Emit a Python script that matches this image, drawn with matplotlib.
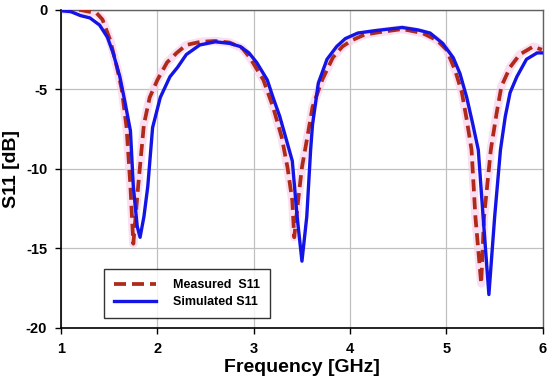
import matplotlib
matplotlib.use("Agg")
import matplotlib.pyplot as plt
import numpy as np

# frequency [GHz] / S11 [dB]
f_sim = [1.0, 1.1, 1.2, 1.3, 1.4, 1.48, 1.54, 1.61, 1.66, 1.72, 1.75, 1.79, 1.82, 1.86,
         1.90, 1.95, 2.03, 2.13, 2.21, 2.3, 2.44, 2.6, 2.75, 2.86, 2.95, 3.03, 3.14, 3.20,
         3.27, 3.34, 3.40, 3.45, 3.50, 3.55, 3.59, 3.61, 3.67, 3.76, 3.86, 3.95, 4.08,
         4.26, 4.54, 4.70, 4.83, 4.96, 5.07, 5.14, 5.21, 5.27, 5.33, 5.38, 5.44, 5.50,
         5.56, 5.61, 5.66, 5.73, 5.83, 5.94, 6.0]
s11_sim = [-0.05, -0.1, -0.35, -0.5, -0.95, -1.7, -2.7, -4.2, -5.7, -7.6, -11.1, -13.6,
           -14.3, -13.0, -11.1, -7.4, -5.5, -4.2, -3.6, -2.8, -2.2, -2.0, -2.1, -2.3, -2.7,
           -3.3, -4.4, -5.5, -6.7, -8.2, -9.5, -13.0, -15.8, -13.0, -8.8, -7.2, -4.6, -3.1,
           -2.3, -1.8, -1.45, -1.3, -1.1, -1.25, -1.45, -2.1, -3.0, -4.0, -5.5, -7.1, -8.8,
           -13.0, -17.9, -13.0, -8.8, -6.7, -5.2, -4.2, -3.1, -2.7, -2.7]

f_meas = [1.0, 1.2, 1.37, 1.43, 1.51, 1.58, 1.63, 1.68, 1.72, 1.75, 1.80, 1.86, 1.92,
          2.0, 2.10, 2.20, 2.3, 2.45, 2.6, 2.75, 2.88, 2.96, 3.10, 3.20, 3.29, 3.35, 3.40,
          3.42, 3.46, 3.50, 3.55, 3.61, 3.71, 3.82, 3.92, 4.02, 4.15, 4.30, 4.54, 4.75,
          4.90, 5.00, 5.09, 5.16, 5.21, 5.26, 5.30, 5.36, 5.39, 5.46, 5.52, 5.57, 5.66,
          5.76, 5.90, 5.99]
s11_meas = [0.0, 0.0, -0.2, -0.6, -1.9, -3.6, -5.0, -7.4, -11.1, -14.7, -11.1, -7.2,
            -5.5, -4.4, -3.3, -2.7, -2.2, -2.0, -1.95, -2.05, -2.4, -3.0, -4.4, -6.1, -8.0,
            -9.9, -12.0, -14.3, -12.0, -9.9, -8.2, -6.1, -4.4, -3.0, -2.3, -1.9, -1.55,
            -1.4, -1.2, -1.45, -1.9, -2.5, -3.8, -5.2, -6.9, -8.8, -13.0, -17.2, -13.0,
            -8.8, -6.5, -4.8, -3.6, -2.8, -2.3, -2.5]

plt.rcParams['font.family'] = ['Liberation Sans', 'DejaVu Sans']
plt.rcParams['font.weight'] = 'bold'
plt.rcParams['axes.unicode_minus'] = False

fig = plt.figure(figsize=(5.5, 3.84), dpi=100)
ax = fig.add_axes([0.111, 0.146, 0.876, 0.828])

# faint pink halo behind the measured curve
ax.plot(f_meas, s11_meas, color='#F8C8E8', lw=6, alpha=0.6, zorder=2,
        solid_joinstyle='round')
ax.plot(f_meas, s11_meas, color='#B02A1A', lw=2.7, ls=(0, (3.2, 1.6)),
        label='Measured  S11', zorder=3)
ax.plot(f_sim, s11_sim, color='#1414E6', lw=2.4, label='Simulated S11', zorder=4,
        solid_joinstyle='round')

ax.set_xlim(1, 6)
ax.set_ylim(-20, 0)
ax.set_xticks(np.arange(1, 7, 1))
ax.set_yticks(np.arange(-20, 1, 5))
ax.grid(True, color='#C0C0C0', lw=0.9)
ax.set_axisbelow(True)
ax.tick_params(direction='out', length=4, width=1, labelsize=10.5, pad=6)
for lab in ax.get_xticklabels() + ax.get_yticklabels():
    lab.set_fontweight('bold')
for side in ['left', 'bottom']:
    ax.spines[side].set_color('black')
    ax.spines[side].set_linewidth(1.2)
for side in ['top', 'right']:
    ax.spines[side].set_color('#606060')
    ax.spines[side].set_linewidth(1.0)

ax.set_xlabel('Frequency [GHz]', fontsize=14, fontweight='bold', labelpad=2)
ax.set_ylabel('S11 [dB]', fontsize=14, fontweight='bold', labelpad=4)

leg = ax.legend(loc='lower left', bbox_to_anchor=(0.089, 0.031), fontsize=9,
                frameon=True, fancybox=False, handlelength=3.4, borderpad=0.8,
                labelspacing=0.4, handletextpad=1.3, borderaxespad=0)
leg.get_frame().set_edgecolor('black')
leg.get_frame().set_linewidth(1.0)
for t in leg.get_texts():
    t.set_fontweight('bold')

fig.savefig('out.png', dpi=100)
